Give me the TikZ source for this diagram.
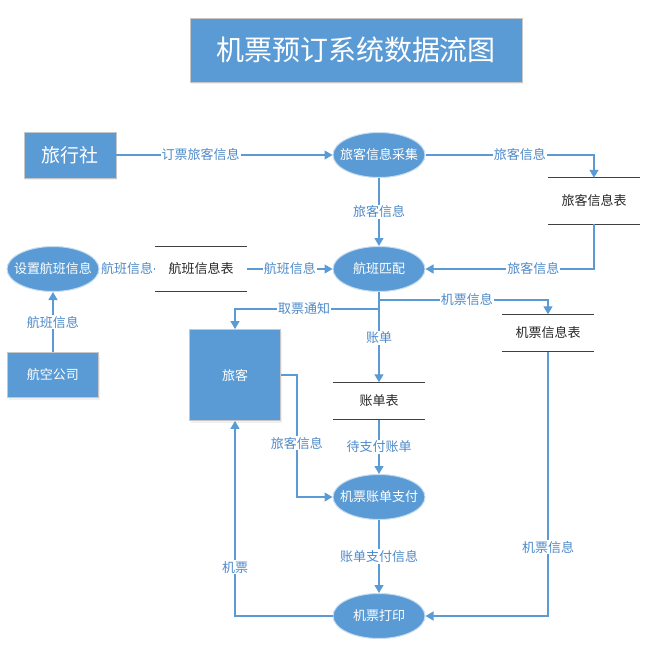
\documentclass[tikz,border=0pt]{standalone}
\usepackage{fontspec}
\setmainfont{Noto Sans CJK SC}
\usetikzlibrary{shapes.geometric,arrows.meta,shadows}
\definecolor{dfdblue}{HTML}{5B9BD5}
\definecolor{dfdtext}{HTML}{4F8AC9}
\newcommand{\dfdfont}{\fontsize{13}{15}\selectfont}
\tikzset{
  entity/.style={rectangle,fill=dfdblue,draw=black!22,line width=0.8pt,text=white,inner sep=0pt,font=\dfdfont,
    drop shadow={opacity=0.12,shadow xshift=1pt,shadow yshift=-2pt}},
  proc/.style={ellipse,fill=dfdblue,draw=dfdblue!35,line width=1pt,minimum width=92pt,minimum height=45pt,
    inner xsep=-8pt,inner ysep=0pt,text=white,font=\dfdfont},
  store/.style={rectangle,minimum width=92pt,inner sep=0pt,font=\dfdfont,text=black!85},
  storeline/.style={black!75,line width=1.2pt},
  flowline/.style={dfdblue,line width=1.3pt},
  flow/.style={flowline,-{Triangle[length=8pt,width=9pt]}},
  lbl/.style={fill=white,text=dfdtext,inner sep=1pt,font=\dfdfont},
}
\begin{document}
\begin{tikzpicture}[x=1pt,y=-1pt]
  \useasboundingbox (0,0) rectangle (657,651);
  % title
  \node[entity,minimum width=332pt,minimum height=64pt,font=\fontsize{28}{32}\selectfont] (title) at (356,50) {机票预订系统数据流图};
  % external entities
  \node[entity,minimum width=92pt,minimum height=46pt,font=\fontsize{19}{22}\selectfont] (lxs) at (70,155) {旅行社};
  \node[entity,minimum width=91pt,minimum height=45pt] (hkgs) at (53,375) {航空公司};
  \node[entity,minimum width=91pt,minimum height=91pt] (lk) at (235,375) {旅客};
  % processes
  \node[proc] (cj) at (379,155) {旅客信息采集};
  \node[proc] (pp) at (379,269) {航班匹配};
  \node[proc] (szhb) at (53,269) {设置航班信息};
  \node[proc] (zf) at (379,497) {机票账单支付};
  \node[proc] (dy) at (379,616) {机票打印};
  % data stores
  \node[store,minimum height=46pt] (lkb) at (594,201) {旅客信息表};
  \node[store,minimum height=45pt] (hbb) at (201,269) {航班信息表};
  \node[store,minimum height=37pt] (jpb) at (548,333) {机票信息表};
  \node[store,minimum height=37pt] (zdb) at (379,401) {账单表};
  \foreach \s in {lkb,hbb,jpb,zdb}{
    \draw[storeline] (\s.north west) -- (\s.north east);
    \draw[storeline] (\s.south west) -- (\s.south east);
  }
  % branch points under 航班匹配
  \coordinate (jpfork) at (379,300);
  \coordinate (qpfork) at (379,309);
  % flows
  \draw[flow] (lxs) -- node[lbl,pos=0.39]{订票旅客信息} (cj);
  \draw[flow] (cj) -- node[lbl]{旅客信息} (pp);
  \draw[flow] (cj.east) -| node[lbl,pos=0.28]{旅客信息} (lkb.north);
  \draw[flow] (lkb.south) |- node[lbl,pos=0.68]{旅客信息} (pp.east);
  \draw[flowline] (szhb) -- node[lbl]{航班信息} (hbb);
  \draw[flow] (hbb) -- node[lbl]{航班信息} (pp);
  \draw[flow] (hkgs.north) -- node[lbl]{航班信息} (szhb.south);
  \draw[flow] (pp.south) -- node[lbl,pos=0.51]{账单} (zdb.north);
  \draw[flow] (qpfork) -| node[lbl,pos=0.26]{取票通知} (lk.north);
  \draw[flow] (jpfork) -| node[lbl,pos=0.26]{机票信息} (jpb.north);
  \draw[flow] (zdb.south) -- node[lbl]{待支付账单} (zf.north);
  \draw[flow] (lk.east) -- ++(16,0) |- node[lbl,pos=0.28]{旅客信息} (zf.west);
  \draw[flow] (zf) -- node[lbl]{账单支付信息} (dy);
  \draw[flow] (jpb.south) |- node[lbl,pos=0.37]{机票信息} (dy.east);
  \draw[flow] (dy.west) -| node[lbl,pos=0.625]{机票} (lk.south);
\end{tikzpicture}
\end{document}
